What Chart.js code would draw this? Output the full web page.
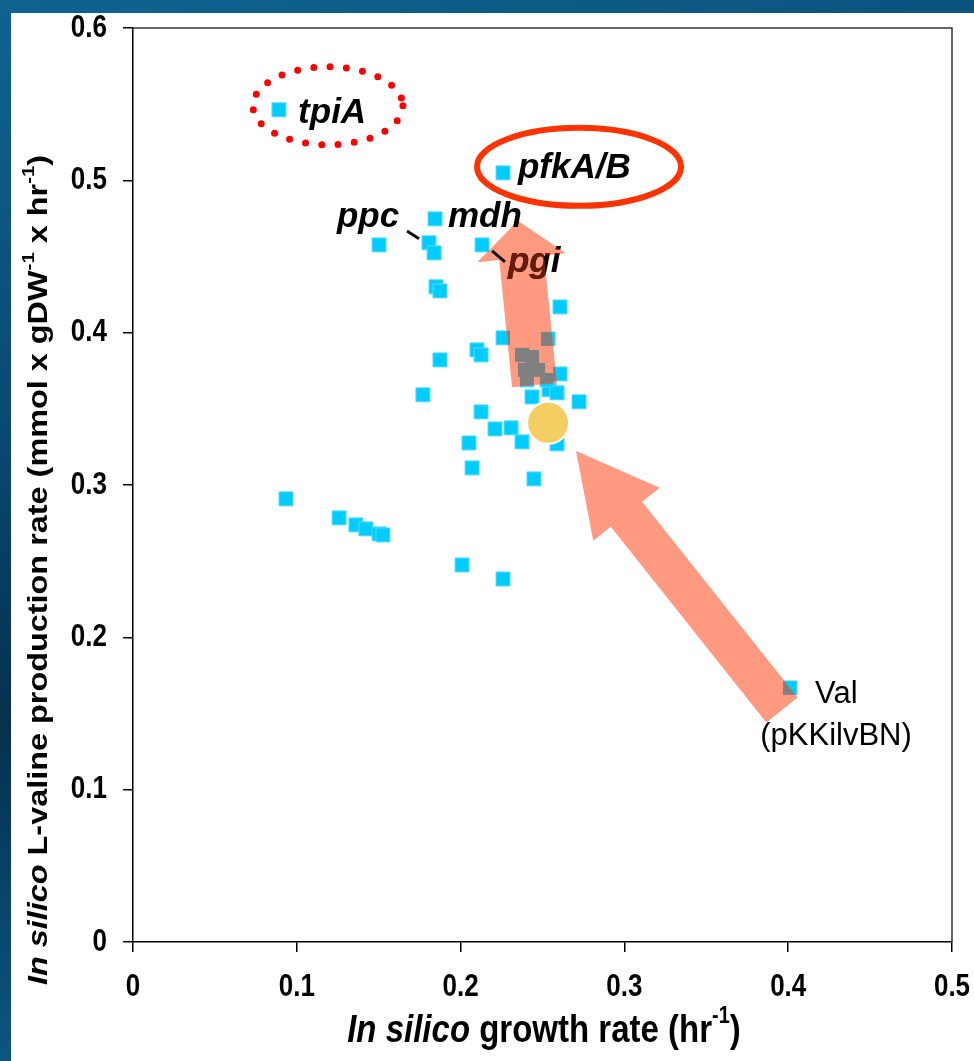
<!DOCTYPE html>
<html>
<head>
<meta charset="utf-8">
<script src="https://cdn.jsdelivr.net/npm/chart.js@4.4.0/dist/chart.umd.min.js"></script>
<style>
  html,body{margin:0;padding:0;width:974px;height:1061px;overflow:hidden;
    background:linear-gradient(165deg,#0f6391 0%,#0a4b76 30%,#06304f 55%,#0b5682 80%,#083a5e 100%);}
  #panel{position:absolute;left:11px;top:13px;width:963px;height:1048px;background:#fff;}
  canvas{display:block;}
</style>
</head>
<body>
<div id="panel"><canvas id="c" width="963" height="1048"></canvas></div>
<script>
/* in silico growth vs L-valine production, single knockouts */
const growth = [0.0891,0.2259,0.1844,0.1502,0.1807,0.1838,0.2131,0.1850,0.1874,0.2607,
  0.2259,0.2534,0.2100,0.2125,0.1874,0.1770,0.2607,0.2436,0.2540,0.2589,0.2723,0.2125,
  0.2210,0.2308,0.2375,0.2051,0.2070,0.2448,0.2589,
  0.2375,0.2436,0.2393,0.2473,0.2405,0.2527,
  0.0934,0.1258,0.1361,0.1422,0.1502,0.1526,0.2009,0.2259,0.4011];
const valine = [0.5463,0.5049,0.4747,0.4576,0.4590,0.4524,0.4576,0.4301,0.4274,0.4169,
  0.3966,0.3959,0.3887,0.3854,0.3821,0.3592,0.3729,0.3578,0.3625,0.3605,0.3546,0.3480,
  0.3368,0.3375,0.3283,0.3276,0.3112,0.3040,0.3270,
  0.3854,0.3841,0.3756,0.3756,0.3690,0.3690,
  0.2909,0.2784,0.2738,0.2712,0.2679,0.2672,0.2475,0.2383,0.1668];
// reference strain
const wtGrowth = [0.2534];
const wtValine = [0.3408];

const xRange = {min:0, max:0.5, step:0.1};
const yRange = {min:0, max:0.6, step:0.1};

const FONT = '"Liberation Sans", Arial, sans-serif';
const CYAN = '#00CCFF', SALMON = '#FF997F', GREY = '#808080';
const SY = 1.2;   // axis text is drawn a little taller than wide

// gene labels, arrows and rings, placed in data units
const geneLabels = [
  {t:'tpiA',   x:0.1008, y:0.5378},
  {t:'pfkA/B', x:0.2350, y:0.5016},
  {t:'ppc',    x:0.1245, y:0.4695},
  {t:'mdh',    x:0.1923, y:0.4695},
  {t:'pgi',    x:0.2289, y:0.4399, tint:true}
];
const leaders = [
  [0.1673,0.4668,0.1746,0.4616],
  [0.2192,0.4537,0.2271,0.4465]
];
const arrows = [
  {x0:0.2451,y0:0.3657,x1:0.2350,y1:0.4734,shaft:45,head:89,headLen:37},
  {x0:0.3962,y0:0.1523,x1:0.2705,y1:0.3224,shaft:40,head:85,headLen:81}
];

function arrowPath(ctx,a,P){
  const [x0,y0]=P(a.x0,a.y0), [x1,y1]=P(a.x1,a.y1);
  const len=Math.hypot(x1-x0,y1-y0), ux=(x1-x0)/len, uy=(y1-y0)/len, nx=-uy, ny=ux;
  const bx=x1-ux*a.headLen, by=y1-uy*a.headLen, s=a.shaft/2, h=a.head/2;
  ctx.beginPath();
  ctx.moveTo(x0+nx*s,y0+ny*s);
  ctx.lineTo(bx+nx*s,by+ny*s);
  ctx.lineTo(bx+nx*h,by+ny*h);
  ctx.lineTo(x1,y1);
  ctx.lineTo(bx-nx*h,by-ny*h);
  ctx.lineTo(bx-nx*s,by-ny*s);
  ctx.lineTo(x0-nx*s,y0-ny*s);
  ctx.closePath();
}

// runs of text with their own style, centred on (0,0); sup runs raised and smaller
function richText(ctx,runs,size){
  const fontOf=r=>`${r.style||'bold'} ${Math.round(r.sup?size*0.62:size)}px ${FONT}`;
  let w=0;
  runs.forEach(r=>{ctx.font=fontOf(r); r.w=ctx.measureText(r.t).width; w+=r.w;});
  let x=-w/2;
  ctx.textBaseline='middle'; ctx.textAlign='left'; ctx.fillStyle='#000';
  runs.forEach(r=>{ctx.font=fontOf(r); ctx.fillText(r.t,x,r.sup?-size*0.38:0); x+=r.w;});
}

function tallText(ctx,text,x,y,font,align){
  ctx.save(); ctx.translate(x,y); ctx.scale(1,SY);
  ctx.font=font; ctx.textAlign=align; ctx.textBaseline='middle'; ctx.fillStyle='#000';
  ctx.fillText(text,0,0); ctx.restore();
}

const annotations = {
  id:'annotations',
  afterDatasetsDraw(chart){
    const ctx=chart.ctx, xs=chart.scales.x, ys=chart.scales.y;
    const P=(x,y)=>[xs.getPixelForValue(x),ys.getPixelForValue(y)];
    const pts=chart.getDatasetMeta(1).data;
    ctx.save();
    // arrows, with the points they cover shown grey
    arrows.forEach(a=>{
      arrowPath(ctx,a,P); ctx.fillStyle=SALMON; ctx.fill();
      ctx.save(); arrowPath(ctx,a,P); ctx.clip();
      ctx.fillStyle=GREY;
      pts.forEach(p=>ctx.fillRect(p.x-7,p.y-7,14,14));
      ctx.restore();
    });
    // dotted ring around tpiA
    let [ex,ey]=P(0.1190,0.5489);
    ctx.beginPath(); ctx.ellipse(ex,ey,75,39,0,0,Math.PI*2);
    ctx.strokeStyle='#FF0000'; ctx.lineWidth=7; ctx.lineCap='round'; ctx.setLineDash([0,16.3]);
    ctx.stroke(); ctx.setLineDash([]);
    // solid ring around pfkA/B
    [ex,ey]=P(0.2723,0.5089);
    ctx.beginPath(); ctx.ellipse(ex,ey,102,39,0,0,Math.PI*2);
    ctx.strokeStyle='#FF3300'; ctx.lineWidth=6; ctx.stroke();
    // leader lines
    ctx.strokeStyle='#111'; ctx.lineWidth=3; ctx.lineCap='butt';
    leaders.forEach(l=>{const a=P(l[0],l[1]),b=P(l[2],l[3]);
      ctx.beginPath(); ctx.moveTo(a[0],a[1]); ctx.lineTo(b[0],b[1]); ctx.stroke();});
    // gene names
    ctx.font=`italic bold 35px ${FONT}`; ctx.textBaseline='alphabetic'; ctx.textAlign='left';
    geneLabels.forEach(g=>{
      const [gx,gy]=P(g.x,g.y);
      ctx.fillStyle='#000'; ctx.fillText(g.t,gx,gy);
      if(g.tint){ ctx.save(); arrowPath(ctx,arrows[0],P); ctx.clip();
        ctx.fillStyle='#6a1c0c'; ctx.fillText(g.t,gx,gy); ctx.restore(); }
    });
    // parent strain label
    ctx.font=`31px ${FONT}`; ctx.fillStyle='#000';
    let [vx,vy]=P(0.4164,0.1569); ctx.fillText('Val',vx,vy);
    [vx,vy]=P(0.4292,0.1293); ctx.textAlign='center'; ctx.fillText('(pKKilvBN)',vx,vy);
    ctx.restore();
  },
  afterDraw(chart){
    const ctx=chart.ctx, a=chart.chartArea, xs=chart.scales.x, ys=chart.scales.y;
    ctx.save();
    // frame on top and right
    ctx.strokeStyle='#333'; ctx.lineWidth=1.5;
    ctx.beginPath(); ctx.moveTo(a.left,a.top); ctx.lineTo(a.right,a.top); ctx.lineTo(a.right,a.bottom); ctx.stroke();
    // tick labels
    const tf=`bold 26px ${FONT}`;
    xs.ticks.forEach((t,i)=>tallText(ctx,t.label,xs.getPixelForTick(i),a.bottom+45,tf,'center'));
    ys.ticks.forEach((t,i)=>tallText(ctx,t.label,a.left-26,ys.getPixelForTick(i),tf,'right'));
    // axis titles
    ctx.save(); ctx.translate(533,1018); ctx.scale(1,SY);
    richText(ctx,[{t:'In silico ',style:'italic bold'},{t:'growth rate (hr'},{t:'-1',sup:true},{t:')'}],33);
    ctx.restore();
    ctx.save(); ctx.translate(29,557); ctx.rotate(-Math.PI/2); ctx.scale(SY,1);
    richText(ctx,[{t:'In silico ',style:'italic bold'},{t:'L-valine production rate (mmol x gDW'},{t:'-1',sup:true},
      {t:' x hr'},{t:'-1',sup:true},{t:')'}],27);
    ctx.restore();
    ctx.restore();
  }
};

const gridOpts={drawOnChartArea:false,drawTicks:true,tickLength:10,color:'#000',lineWidth:1.5};
new Chart(document.getElementById('c'),{
  type:'scatter',
  data:{datasets:[
    {label:'parent',data:wtGrowth.map((x,i)=>({x,y:wtValine[i]})),pointStyle:'circle',
      pointRadius:21,pointHoverRadius:21,backgroundColor:'#F5CE63',borderColor:'#ffffff',borderWidth:2},
    {label:'knockouts',data:growth.map((x,i)=>({x,y:valine[i]})),pointStyle:'rect',
      pointRadius:9.9,pointHoverRadius:9.9,backgroundColor:CYAN,borderColor:'#55dcff',borderWidth:1}
  ]},
  options:{
    responsive:false,animation:false,
    layout:{autoPadding:false,padding:{top:15,right:22,left:0,bottom:0}},
    plugins:{legend:{display:false},tooltip:{enabled:false}},
    scales:{
      x:{type:'linear',min:xRange.min,max:xRange.max,
        ticks:{stepSize:xRange.step,display:false},
        grid:gridOpts,border:{color:'#000',width:1.5},
        afterFit(s){s.height=119;}},
      y:{type:'linear',min:yRange.min,max:yRange.max,
        ticks:{stepSize:yRange.step,display:false},
        grid:gridOpts,border:{color:'#000',width:1.5},
        afterFit(s){s.width=122;}}
    }
  },
  plugins:[annotations]
});
</script>
</body>
</html>
